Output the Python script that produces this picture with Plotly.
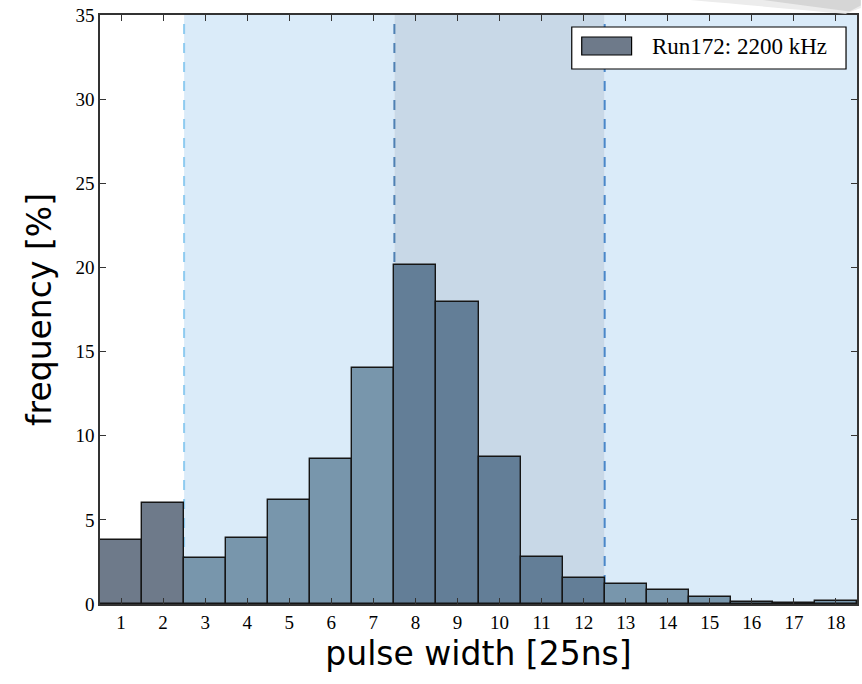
import plotly.graph_objects as go

# Pulse-width histogram (bins of 25 ns), frequency in percent
bins = list(range(1, 19))
freq = [3.8, 6.0, 2.75, 3.9, 6.2, 8.6, 14.05, 20.15, 17.95, 8.75,
        2.8, 1.55, 1.2, 0.85, 0.4, 0.12, 0.08, 0.15]
tick_labels = [str(b) for b in bins]

# Shaded bin regions: (start, end, fill colour, boundary line colour)
regions = [
    (2.5, 7.5, "#daebf9", "#8ecbf0"),
    (7.5, 12.5, "#c8d8e7", "#4f80b3"),
    (12.5, 18.5, "#daebf9", "#4a87c9"),
]

legend_label = "Run172: 2200 kHz"


def bar_colour(b):
    if b <= 2:
        return "#6e7a8a"
    if 8 <= b <= 12:
        return "#637e97"
    return "#7896ac"


fig = go.Figure()
fig.add_trace(go.Bar(
    x=bins, y=freq, width=1.0,
    marker=dict(color=[bar_colour(b) for b in bins],
                line=dict(color="#151515", width=1.4)),
    showlegend=False,
))

shapes = []
for x0, x1, fill, edge in regions:
    shapes.append(dict(type="rect", xref="x", yref="y", x0=x0, x1=x1, y0=0, y1=35,
                       fillcolor=fill, line=dict(width=0), layer="below"))
for x0, x1, fill, edge in regions:
    shapes.append(dict(type="line", xref="x", yref="y", x0=x0, x1=x0, y0=0, y1=35,
                       line=dict(color=edge, width=2, dash="10px,9px"), layer="below"))

# decorative grey swoosh in the upper-right corner
shapes.append(dict(type="path", xref="paper", yref="paper",
                   path="M 0.74,1.03 Q 0.88,1.014 0.985,1.002 L 1.005,1.012 L 1.005,1.03 Z",
                   fillcolor="#ececec", line=dict(width=0), layer="above"))
shapes.append(dict(type="path", xref="paper", yref="paper",
                   path="M 0.85,1.03 Q 0.93,1.016 0.99,1.006 L 1.005,1.016 L 1.005,1.03 Z",
                   fillcolor="#d6d6d6", line=dict(width=0), layer="above"))

# legend box with patch swatch
shapes.append(dict(type="rect", xref="paper", yref="paper",
                   x0=(573 - 100) / 759, x1=(848 - 100) / 759,
                   y0=(604 - 69) / 589, y1=(604 - 27) / 589,
                   fillcolor="white", line=dict(color="black", width=1.2), layer="above"))
shapes.append(dict(type="rect", xref="paper", yref="paper",
                   x0=(583 - 100) / 759, x1=(633 - 100) / 759,
                   y0=(604 - 55) / 589, y1=(604 - 37) / 589,
                   fillcolor="#6e7a8a", line=dict(color="black", width=1.2), layer="above"))

fig.update_layout(
    width=862, height=684,
    margin=dict(l=100, r=3, t=15, b=80),
    plot_bgcolor="white", paper_bgcolor="white",
    bargap=0,
    shapes=shapes,
    annotations=[dict(text=legend_label, xref="paper", yref="paper",
                      x=(651 - 100) / 759, y=(604 - 47) / 589,
                      xanchor="left", yanchor="middle", showarrow=False,
                      font=dict(family="Liberation Serif", size=23, color="black"))],
    font=dict(family="Liberation Serif", color="black"),
)

fig.update_xaxes(
    range=[0.5, 18.5], tickmode="array", tickvals=bins, ticktext=tick_labels,
    ticks="inside", ticklen=6, tickwidth=1, tickcolor="#333",
    showline=True, linecolor="#333", linewidth=1.5, mirror="ticks",
    showgrid=False, zeroline=False,
    tickfont=dict(family="Liberation Serif", size=19, color="black"),
    title=dict(text="pulse width [25ns]",
               font=dict(family="DejaVu Sans", size=33, color="black"), standoff=10),
)
fig.update_yaxes(
    range=[0, 35], tickmode="array", tickvals=[0, 5, 10, 15, 20, 25, 30, 35],
    ticks="inside", ticklen=6, tickwidth=1, tickcolor="#333",
    showline=True, linecolor="#333", linewidth=1.5, mirror="ticks",
    showgrid=False, zeroline=False,
    tickfont=dict(family="Liberation Serif", size=19, color="black"),
    title=dict(text="frequency [%]",
               font=dict(family="DejaVu Sans", size=33, color="black"), standoff=14),
)

fig.write_html("out.html")
